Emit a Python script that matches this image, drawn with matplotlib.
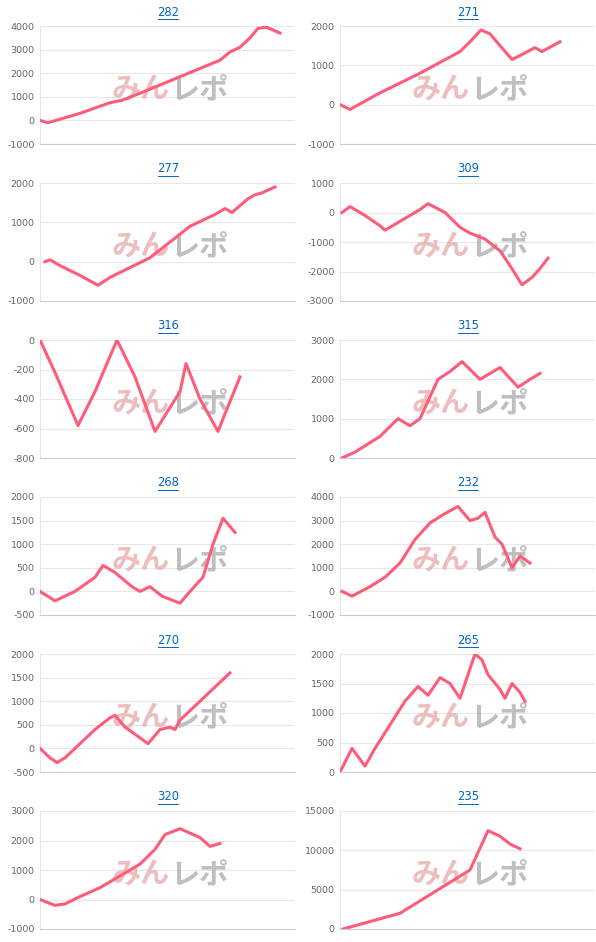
import matplotlib
matplotlib.use("Agg")
import matplotlib.pyplot as plt

plt.rcParams["axes.unicode_minus"] = False

titles = ["282", "271", "277", "309", "316", "315", "268", "232", "270", "265", "320", "235"]
ylims = [(-1000, 4000, 1000), (-1000, 2000, 1000), (-1000, 2000, 1000), (-3000, 1000, 1000),
         (-800, 0, 200), (0, 3000, 1000), (-500, 2000, 500), (-1000, 4000, 1000),
         (-500, 2000, 500), (0, 2000, 500), (-1000, 3000, 1000), (0, 15000, 5000)]

# x positions (pixel-like offsets along the axis, 0..255), y values
x282 = [0, 8, 20, 40, 70, 82, 100, 120, 140, 160, 180, 190, 200, 210, 218, 226, 232, 240]
y282 = [0, -100, 50, 300, 750, 850, 1150, 1500, 1850, 2200, 2550, 2900, 3100, 3500, 3900, 3950, 3850, 3700]
x271 = [0, 10, 40, 80, 120, 130, 141, 150, 160, 172, 180, 195, 202, 220]
y271 = [0, -120, 300, 800, 1350, 1600, 1900, 1800, 1500, 1150, 1250, 1450, 1350, 1600]
x277 = [5, 10, 20, 40, 58, 70, 90, 110, 130, 150, 175, 185, 192, 208, 215, 222, 235]
y277 = [0, 50, -100, -350, -600, -400, -150, 100, 500, 900, 1200, 1350, 1250, 1600, 1700, 1750, 1900]
x309 = [2, 10, 25, 40, 45, 60, 80, 88, 105, 120, 130, 145, 160, 170, 182, 192, 200, 208]
y309 = [0, 200, -100, -450, -600, -300, 100, 300, 0, -500, -700, -900, -1300, -1800, -2450, -2200, -1900, -1550]
x316 = [0, 15, 38, 55, 77, 95, 115, 140, 146, 160, 178, 185, 200]
y316 = [0, -220, -580, -350, 0, -250, -620, -350, -160, -400, -620, -500, -250]
x315 = [2, 15, 40, 58, 70, 80, 98, 110, 122, 140, 160, 178, 190, 200]
y315 = [0, 150, 550, 1000, 820, 1000, 2000, 2200, 2450, 2000, 2300, 1800, 2000, 2150]
x268 = [0, 15, 35, 55, 63, 75, 92, 100, 110, 122, 140, 150, 163, 173, 183, 195]
y268 = [0, -200, 0, 300, 550, 400, 100, 0, 100, -100, -250, 0, 300, 1000, 1550, 1250]
x232 = [2, 12, 30, 45, 60, 75, 90, 105, 118, 130, 138, 145, 155, 162, 172, 180, 190]
y232 = [0, -200, 200, 600, 1200, 2200, 2900, 3300, 3600, 3000, 3100, 3350, 2300, 2000, 1000, 1500, 1200]
x270 = [0, 10, 17, 25, 40, 55, 70, 75, 85, 95, 108, 120, 130, 135, 140, 160, 175, 190]
y270 = [0, -200, -300, -200, 100, 400, 650, 700, 450, 300, 100, 400, 450, 400, 600, 1000, 1300, 1600]
x265 = [0, 12, 25, 35, 50, 65, 78, 88, 100, 110, 120, 135, 142, 148, 160, 165, 172, 180, 185]
y265 = [0, 400, 100, 400, 800, 1200, 1450, 1300, 1600, 1500, 1250, 2000, 1900, 1650, 1400, 1250, 1500, 1350, 1200]
x320 = [0, 15, 25, 40, 60, 80, 100, 115, 125, 140, 150, 160, 170, 180]
y320 = [0, -200, -150, 100, 400, 800, 1200, 1700, 2200, 2400, 2250, 2100, 1800, 1900]
x235 = [3, 60, 130, 148, 160, 170, 180]
y235 = [0, 2000, 7500, 12500, 11800, 10800, 10200]

xs = [x282, x271, x277, x309, x316, x315, x268, x232, x270, x265, x320, x235]
ys = [y282, y271, y277, y309, y316, y315, y268, y232, y270, y265, y320, y235]

W, H = 596, 942
fig = plt.figure(figsize=(W / 100, H / 100), dpi=100)
fig.patch.set_facecolor("white")

for i in range(12):
    row, col = divmod(i, 2)
    left = 40 if col == 0 else 340
    top = 157 * row + 26
    ax = fig.add_axes([left / W, 1 - (top + 118) / H, 255 / W, 118 / H])
    lo, hi, st = ylims[i]
    ax.set_ylim(lo, hi)
    ax.set_xlim(0, 255)
    ax.set_yticks(list(range(lo, hi + 1, st)))
    ax.set_xticks([])
    ax.grid(axis="y", color="#e8e8e8", linewidth=0.8)
    ax.set_axisbelow(True)
    for s in ["top", "right"]:
        ax.spines[s].set_visible(False)
    ax.spines["left"].set_color("#e6e6e6")
    ax.spines["bottom"].set_color("#cccccc")
    ax.tick_params(axis="y", length=0, labelsize=6.8, colors="#666666", pad=4)
    ax.plot(xs[i], ys[i], color="#ff5c7a", linewidth=2.2, solid_joinstyle="round", zorder=3)
    ax.text(0.51, 0.46, "みん", transform=ax.transAxes, ha="right", va="center",
            fontsize=21, fontweight="bold", color="#e8a8a8", alpha=0.75,
            family=["Noto Sans CJK JP", "DejaVu Sans"], zorder=2)
    ax.text(0.51, 0.46, "レポ", transform=ax.transAxes, ha="left", va="center",
            fontsize=21, fontweight="bold", color="#aaaaaa", alpha=0.75,
            family=["Noto Sans CJK JP", "DejaVu Sans"], zorder=2)
    cx = (left + 128) / W
    fig.text(cx, 1 - (157 * row + 12) / H, titles[i], ha="center", va="center",
             fontsize=8.3, color="#0066cc")
    fig.add_artist(plt.Line2D([cx - 10 / W, cx + 10 / W],
                              [1 - (157 * row + 19) / H] * 2, color="#0066cc", linewidth=0.7))

fig.savefig("out.png", dpi=100, facecolor="white")
